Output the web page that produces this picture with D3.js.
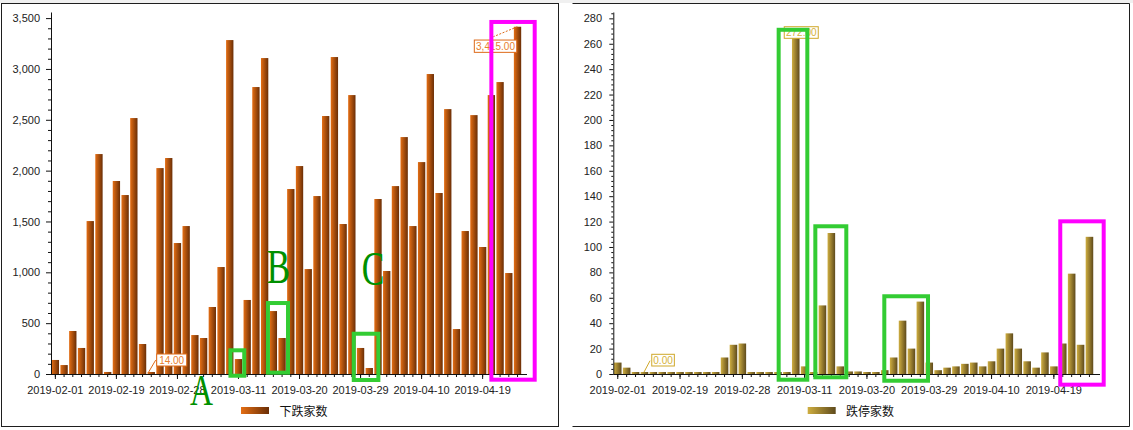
<!DOCTYPE html>
<html><head><meta charset="utf-8">
<script src="https://cdn.jsdelivr.net/npm/d3@7/dist/d3.min.js"></script>
<style>
html,body{margin:0;padding:0;background:#fff;}
svg{display:block;}
</style></head><body>
<svg id="chart" width="1133" height="430"></svg>
<script>
// ---------------- data ----------------
const dates = [
  "2019-02-01","2019-02-11","2019-02-12","2019-02-13","2019-02-14","2019-02-15","2019-02-18","2019-02-19",
  "2019-02-20","2019-02-21","2019-02-22","2019-02-25","2019-02-26","2019-02-27","2019-02-28",
  "2019-03-01","2019-03-04","2019-03-05","2019-03-06","2019-03-07","2019-03-08","2019-03-11",
  "2019-03-12","2019-03-13","2019-03-14","2019-03-15","2019-03-18","2019-03-19","2019-03-20",
  "2019-03-21","2019-03-22","2019-03-25","2019-03-26","2019-03-27","2019-03-28","2019-03-29",
  "2019-04-01","2019-04-02","2019-04-03","2019-04-04","2019-04-08","2019-04-09","2019-04-10",
  "2019-04-11","2019-04-12","2019-04-15","2019-04-16","2019-04-17","2019-04-18","2019-04-19",
  "2019-04-22","2019-04-23","2019-04-24","2019-04-25"
];
const declineCounts = [
  138, 88, 423, 256, 1504, 2163, 20, 1898, 1760, 2517, 295, 14, 2025, 2124, 1288,
  1455, 383, 354, 659, 1052, 3284, 147, 728, 2822, 3107, 619, 354, 1819, 2045,
  1032, 1750, 2537, 3117, 1475, 2743, 256, 59, 1721, 1013, 1848, 2330, 1455, 2084,
  2950, 1780, 2605, 442, 1406, 2546, 1249, 2743, 2871, 993, 3415
];
const limitDownCounts = [
  9, 5, 0, 0, 0, 0, 0, 0, 0, 0, 0, 0, 13, 23, 24,
  0, 0, 0, 0, 0, 272, 6, 0, 54, 111, 6, 2, 2, 0,
  0, 3, 13, 42, 20, 57, 9, 3, 5, 6, 8, 9, 6, 10,
  20, 32, 20, 10, 5, 17, 6, 24, 79, 23, 108
];
const seriesNames = ["下跌家数", "跌停家数"];
const declineTicks = [0, 500, 1000, 1500, 2000, 2500, 3000, 3500];
const limitDownTicks = [0, 20, 40, 60, 80, 100, 120, 140, 160, 180, 200, 220, 240, 260, 280];
const xTickDates = ["2019-02-01","2019-02-19","2019-02-28","2019-03-11","2019-03-20","2019-03-29","2019-04-10","2019-04-19"];

// ---------------- layout / style ----------------
const FONT = "'Liberation Sans', Arial, sans-serif";
const panels = [
  { values: declineCounts, name: seriesNames[0], ticks: declineTicks, yMax: 3560, minorStep: 100,
    fmt: d3.format(","), x0: 51, step: 8.72, pad: 0.16, axisEnd: 527, yBase: 374, yTop: 12,
    tickMajor: 5, tickMinor: 3, labelPad: 6, grad: ["#e46e14", "#6a2e06"], gradId: "gDecl",
    legendX: 241, legendTextX: 279.5, labelColor: "#e8802e", labelStroke: "#dd6a18" },
  { values: limitDownCounts, name: seriesNames[1], ticks: limitDownTicks, yMax: 285, minorStep: 4,
    fmt: d3.format("d"), x0: 613.3, step: 8.9, pad: 0.15, axisEnd: 1100, yBase: 374, yTop: 12,
    tickMajor: 4, tickMinor: 2, labelPad: 7.3, grad: ["#cfae40", "#5e4a1c"], gradId: "gLimit",
    legendX: 807.7, legendTextX: 846, labelColor: "#d6b23a", labelStroke: "#cfa82a" }
];

// value labels (placement relative to bar centre / bar top)
const valueLabels = [
  { panel: 0, index: 11, dx: 5.4, dy: -18, w: 30, h: 12, leader: [-3, 0.7, 4.4, -11.9], dash: null },
  { panel: 0, index: 53, dx: -43.2, dy: 13.3, w: 42.4, h: 12.3, leader: [-0.2, 0, -24.2, 10], dash: "2,1.5" },
  { panel: 1, index: 3, dx: 7.3, dy: -17.7, w: 22.6, h: 11.7, leader: [-0.4, 0, 5.6, -11.3], dash: null },
  { panel: 1, index: 20, dx: -11.5, dy: -1.8, w: 34, h: 11.6, leader: null, dash: null }
];

// hand-drawn highlight boxes, in band-index / value units
const highlightBoxes = [
  { panel: 0, i0: 20.08, i1: 21.66, v0: -17, v1: 233, color: "#33cc33" },
  { panel: 0, i0: 24.38, i1: 26.68, v0: 13, v1: 698, color: "#33cc33" },
  { panel: 0, i0: 34.22, i1: 37.04, v0: -59, v1: 396, color: "#33cc33" },
  { panel: 0, i0: 50.0, i1: 54.97, v0: -56, v1: 3462, color: "#ff00ff" },
  { panel: 1, i0: 18.08, i1: 21.3, v0: -4.5, v1: 271, color: "#33cc33" },
  { panel: 1, i0: 22.2, i1: 25.68, v0: -2.6, v1: 116.3, color: "#33cc33" },
  { panel: 1, i0: 29.95, i1: 34.86, v0: -5.3, v1: 61.2, color: "#33cc33" },
  { panel: 1, i0: 49.72, i1: 54.6, v0: -8.4, v1: 120.2, color: "#ff00ff" }
];
const letters = [
  { panel: 0, text: "A", i: 16.75, v: -305, size: 45, w: 23 },
  { panel: 0, text: "B", i: 25.57, v: 895, size: 48, w: 23.3 },
  { panel: 0, text: "C", i: 36.43, v: 875, size: 49, w: 22.6 }
];

// ---------------- drawing ----------------
const svg = d3.select("#chart");
const defs = svg.append("defs");

svg.append("rect").attr("x", 0).attr("y", 0).attr("width", 1133).attr("height", 3).attr("fill", "#f0f0f0");
svg.append("rect").attr("x", 1.5).attr("y", 3.5).attr("width", 557).attr("height", 423)
  .attr("fill", "none").attr("stroke", "#1e1e1e");
svg.append("path").attr("d", "M572.5,3.5H1129.5V426.5H572.5")
  .attr("fill", "none").attr("stroke", "#1e1e1e");

const scales = [];
const annoLayer = [];

panels.forEach((p, pi) => {
  const gr = defs.append("linearGradient").attr("id", p.gradId)
    .attr("x1", "0%").attr("x2", "100%").attr("y1", "0%").attr("y2", "0%");
  gr.append("stop").attr("offset", "0%").attr("stop-color", p.grad[0]);
  gr.append("stop").attr("offset", "100%").attr("stop-color", p.grad[1]);

  const x = d3.scaleBand().domain(dates)
    .range([p.x0, p.x0 + p.step * dates.length])
    .paddingInner(p.pad).paddingOuter(p.pad / 2);
  const y = d3.scaleLinear().domain([0, p.yMax]).range([p.yBase, p.yTop]);
  scales.push({ x, y });

  const g = svg.append("g");

  // bars
  g.append("g").selectAll("rect").data(dates).join("rect")
    .attr("x", d => x(d))
    .attr("width", x.bandwidth())
    .attr("y", (d, i) => Math.min(y(p.values[i]), p.yBase - 2))
    .attr("height", (d, i) => Math.max(p.yBase - y(p.values[i]), 2))
    .attr("fill", `url(#${p.gradId})`);

  // y axis major
  const ya = g.append("g").attr("transform", `translate(${p.x0},0)`)
    .call(d3.axisLeft(y).tickValues(p.ticks).tickSize(p.tickMajor).tickSizeOuter(0)
      .tickPadding(p.labelPad).tickFormat(p.fmt));
  ya.select(".domain").attr("stroke", "#111");
  ya.selectAll(".tick line").attr("stroke", "#111");
  ya.selectAll("text").attr("font-family", FONT).attr("font-size", 11).attr("fill", "#222");
  // y axis minor
  const minors = d3.range(0, p.yMax, p.minorStep).filter(v => !p.ticks.includes(v));
  const ym = g.append("g").attr("transform", `translate(${p.x0},0)`)
    .call(d3.axisLeft(y).tickValues(minors).tickSize(p.tickMinor).tickFormat(""));
  ym.select(".domain").remove();
  ym.selectAll(".tick line").attr("stroke", "#111");

  // x axis
  const xm = g.append("g").attr("transform", `translate(0,${p.yBase})`)
    .call(d3.axisBottom(x).tickValues(dates).tickSize(3).tickFormat(""));
  xm.select(".domain").remove();
  xm.selectAll(".tick line").attr("stroke", "#111");
  const xa = g.append("g").attr("transform", `translate(0,${p.yBase})`)
    .call(d3.axisBottom(x).tickValues(xTickDates).tickSize(5).tickPadding(7));
  xa.select(".domain").remove();
  xa.selectAll(".tick line").attr("stroke", "#111");
  xa.selectAll("text").attr("font-family", FONT).attr("font-size", 11).attr("fill", "#222");
  g.append("line").attr("x1", p.x0).attr("x2", p.axisEnd)
    .attr("y1", p.yBase + 0.5).attr("y2", p.yBase + 0.5).attr("stroke", "#111");

  // legend
  const lg = g.append("g");
  lg.append("rect").attr("x", p.legendX).attr("y", 407).attr("width", 28).attr("height", 7)
    .attr("fill", `url(#${p.gradId})`);
  lg.append("text").attr("x", p.legendTextX).attr("y", 410.8).attr("dominant-baseline", "central")
    .attr("font-family", "'Noto Sans CJK SC', sans-serif").attr("font-size", 12).attr("fill", "#111")
    .text(p.name);
});

// value labels
const fmtLabel = d3.format(",.2f");
valueLabels.forEach(l => {
  const p = panels[l.panel], s = scales[l.panel];
  const d = dates[l.index], v = p.values[l.index];
  const cx = s.x(d) + s.x.bandwidth() / 2;
  const ty = Math.min(s.y(v), p.yBase - 2);
  const g = svg.append("g");
  if (l.leader) {
    g.append("line").attr("x1", cx + l.leader[0]).attr("y1", ty + l.leader[1])
      .attr("x2", cx + l.leader[2]).attr("y2", ty + l.leader[3])
      .attr("stroke", p.labelStroke).attr("stroke-width", 1)
      .attr("stroke-dasharray", l.dash);
  }
  g.append("rect").attr("x", cx + l.dx).attr("y", ty + l.dy).attr("width", l.w).attr("height", l.h)
    .attr("fill", "#fff").attr("stroke", p.labelStroke).attr("stroke-width", 1);
  g.append("text").attr("x", cx + l.dx + l.w / 2).attr("y", ty + l.dy + l.h / 2)
    .attr("text-anchor", "middle").attr("dominant-baseline", "central")
    .attr("font-family", FONT).attr("font-size", 10).attr("fill", p.labelColor)
    .text(fmtLabel(v));
});

// highlight boxes
function bandPos(s, idx) { return s.x.range()[0] + s.x.step() * (idx + 0.5); }
highlightBoxes.forEach(b => {
  const s = scales[b.panel];
  const xL = bandPos(s, b.i0), xR = bandPos(s, b.i1);
  const yT = s.y(b.v1), yB = s.y(b.v0);
  svg.append("rect").attr("x", xL).attr("y", yT).attr("width", xR - xL).attr("height", yB - yT)
    .attr("fill", "none").attr("stroke", b.color).attr("stroke-width", 4);
});
letters.forEach(t => {
  const s = scales[t.panel];
  svg.append("text").attr("x", bandPos(s, t.i) - t.w / 2).attr("y", s.y(t.v))
    .attr("font-family", "'Liberation Serif', 'Times New Roman', serif")
    .attr("font-size", t.size).attr("fill", "#009000")
    .attr("textLength", t.w).attr("lengthAdjust", "spacingAndGlyphs")
    .text(t.text);
});
</script>
</body></html>
